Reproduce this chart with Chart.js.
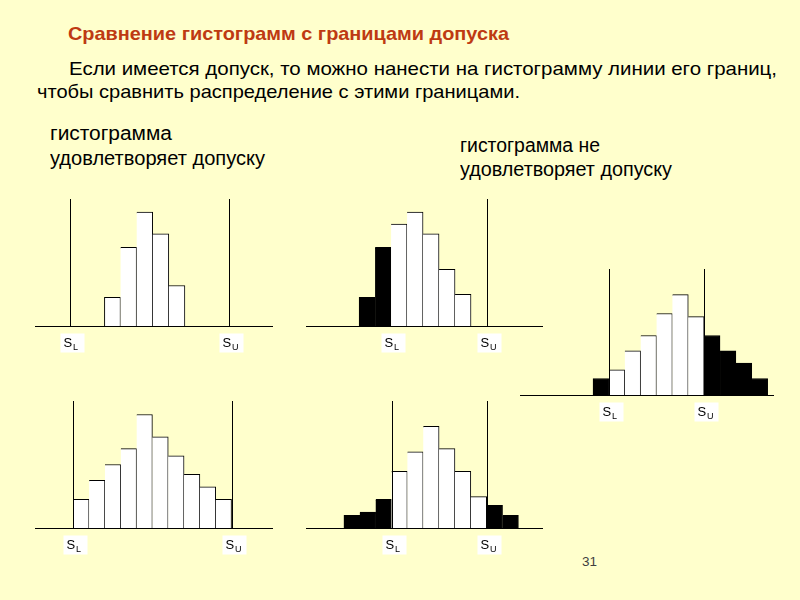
<!DOCTYPE html>
<html lang="ru">
<head>
<meta charset="utf-8">
<title>Сравнение гистограмм с границами допуска</title>
<script src="https://cdn.jsdelivr.net/npm/chart.js@4.4.1/dist/chart.umd.min.js"></script>
<style>
  html, body { margin: 0; padding: 0; }
  body {
    width: 800px; height: 600px; position: relative; overflow: hidden;
    background: #ffffcc;
    font-family: "Liberation Sans", Arial, sans-serif;
  }
  .txt { position: absolute; white-space: nowrap; line-height: 1; transform-origin: 0 0; }
  .title { left: 68px; top: 25px; font-size: 18.5px; font-weight: bold; color: #be3a12; }
  .body { font-size: 18.5px; color: #000; }
  .sub { font-size: 19.5px; color: #000; }
  .page { left: 582px; top: 555px; font-size: 13.5px; color: #404040; }
  canvas { position: absolute; }
</style>
</head>
<body>
<div class="txt title" data-w="441">Сравнение гистограмм с границами допуска</div>
<div class="txt body" style="left:69px; top:60px;" data-w="708">Если имеется допуск, то можно нанести на гистограмму линии его границ,</div>
<div class="txt body" style="left:37px; top:83px;" data-w="483">чтобы сравнить распределение с этими границами.</div>

<div class="txt sub" style="left:50px; top:124px;" data-w="122">гистограмма</div>
<div class="txt sub" style="left:50px; top:149px;" data-w="215">удовлетворяет допуску</div>
<div class="txt sub" style="left:460px; top:136px;" data-w="140">гистограмма не</div>
<div class="txt sub" style="left:460px; top:160px;" data-w="212">удовлетворяет допуску</div>

<canvas id="hist1" width="238" height="157" style="left:35px; top:199px;"></canvas>
<canvas id="hist2" width="237" height="157" style="left:306px; top:199px;"></canvas>
<canvas id="hist3" width="254" height="156" style="left:520px; top:269px;"></canvas>
<canvas id="hist4" width="238" height="157" style="left:35px; top:401px;"></canvas>
<canvas id="hist5" width="237" height="157" style="left:306px; top:401px;"></canvas>

<div class="txt page">31</div>

<script>
// частоты по интервалам (интервалы центрированы на 1, 2, 3, ...)
const hist1Values = [7.2, 19.8, 28.7, 23.2, 10.2];
const hist2Values = [7.2, 19.8, 25.7, 28.7, 23.2, 14.3, 8.0];
const hist3Values = [4.2, 6.4, 11.2, 15.1, 20.7, 25.5, 19.9, 15.1, 11.2, 8.1, 4.2];
const hist4Values = [7.2, 12.0, 16.0, 20.0, 28.6, 23.0, 18.2, 13.5, 10.4, 7.2];
const hist5Values = [3.2, 4.0, 7.2, 14.3, 19.2, 25.6, 20.0, 14.3, 7.9, 5.7, 3.2];

// границы допуска [SL, SU]
const hist1Limits = [-1.65, 8.24];
const hist2Limits = [2.5, 8.5];
const hist3Limits = [1.5, 7.5];
const hist4Limits = [0.5, 10.5];
const hist5Limits = [3.5, 9.5];

// диапазон оси x
const hist1Range = [-3.81, 10.97];
const hist2Range = [-2.82, 12.0];
const hist3Range = [-4.1, 11.9];
const hist4Range = [-1.92, 13.12];
const hist5Range = [-1.89, 13.05];

const limitNames = ["L", "U"];
const yMax = 32;

// линии допуска, ось и подписи S_L / S_U
const limitsPlugin = {
  id: "limits",
  afterDatasetsDraw(chart, args, opts) {
    const { ctx, chartArea, scales } = chart;
    const base = Math.round(chartArea.bottom) + 0.5;
    ctx.save();
    ctx.strokeStyle = "#000";
    ctx.lineWidth = 1;
    ctx.beginPath();
    ctx.moveTo(chartArea.left, base);
    ctx.lineTo(chartArea.right, base);
    ctx.stroke();

    opts.limits.forEach((lim, i) => {
      const px = Math.round(scales.x.getPixelForValue(lim)) + 0.5;
      if (opts.showLines[i]) {
        const top = scales.y.getPixelForValue(yMax);
        ctx.beginPath();
        ctx.moveTo(px, top);
        ctx.lineTo(px, base);
        ctx.stroke();
      }
      const bx = px - 10, by = base + 7;
      ctx.fillStyle = "#fff";
      ctx.fillRect(bx, by, 24, 19);
      ctx.fillStyle = "#000";
      ctx.textBaseline = "alphabetic";
      ctx.font = "13px 'Liberation Sans', Arial, sans-serif";
      ctx.fillText("S", bx + 3, by + 13);
      ctx.font = "9px 'Liberation Sans', Arial, sans-serif";
      ctx.fillText(limitNames[i], bx + 12.5, by + 16);
    });
    ctx.restore();
  }
};

function makeHistogram(id, values, limits, range, showLines) {
  const points = values.map((v, i) => ({ x: i + 1, y: v }));
  const outside = (ctx) => {
    const c = ctx.dataIndex + 1;
    return c < limits[0] || c > limits[1];
  };
  return new Chart(document.getElementById(id), {
    type: "bar",
    data: {
      datasets: [{
        data: points,
        backgroundColor: (ctx) => (outside(ctx) ? "#000" : "#fff"),
        borderColor: "#000",
        borderWidth: (ctx) => ({ top: 1, right: 1, bottom: 0, left: ctx.dataIndex === 0 ? 1 : 0 }),
        borderSkipped: false,
        barPercentage: 1,
        categoryPercentage: 1
      }]
    },
    options: {
      responsive: false,
      animation: false,
      layout: { padding: { left: 0, right: 0, top: 0, bottom: 30 } },
      plugins: {
        legend: { display: false },
        tooltip: { enabled: false },
        limits: { limits: limits, showLines: showLines }
      },
      scales: {
        x: { type: "linear", min: range[0], max: range[1], offset: false, display: false },
        y: { min: 0, max: yMax, display: false }
      }
    },
    plugins: [limitsPlugin]
  });
}

makeHistogram("hist1", hist1Values, hist1Limits, hist1Range, [true, true]);
makeHistogram("hist2", hist2Values, hist2Limits, hist2Range, [false, true]);
makeHistogram("hist3", hist3Values, hist3Limits, hist3Range, [true, true]);
makeHistogram("hist4", hist4Values, hist4Limits, hist4Range, [true, true]);
makeHistogram("hist5", hist5Values, hist5Limits, hist5Range, [true, true]);

// подгонка ширины строк текста
document.querySelectorAll(".txt[data-w]").forEach((el) => {
  const w = el.getBoundingClientRect().width;
  const target = Number(el.dataset.w);
  if (w > 0) el.style.transform = "scaleX(" + (target / w).toFixed(4) + ")";
});
</script>
</body>
</html>
